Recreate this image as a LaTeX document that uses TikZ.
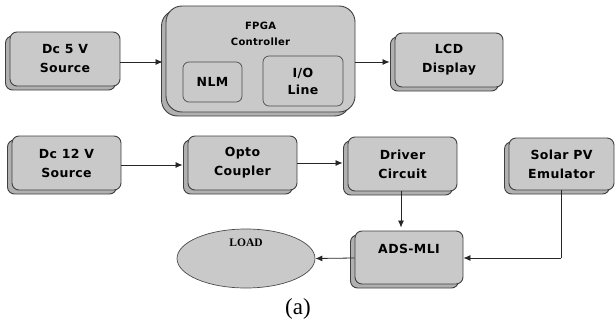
\documentclass[tikz,border=0pt]{standalone}
\usepackage{fontspec}
\setmainfont{Liberation Serif}
\newfontfamily\boxfont[LetterSpace=3]{DejaVu Sans}
\newfontfamily\calfont{Carlito}
\usetikzlibrary{arrows.meta,shadows,shapes.geometric}
\tikzset{
  blk/.style={draw=black!75, line width=0.9pt, fill=gray!42, rounded corners=7pt,
    copy shadow={shadow xshift=-4.5pt, shadow yshift=-4pt, fill=gray!62, draw=black!75},
    font=\boxfont\bfseries\fontsize{12.5}{19}\selectfont, align=center, inner sep=0pt},
  inner/.style={draw=black!70, line width=0.7pt, fill=gray!42, rounded corners=6pt,
    font=\boxfont\bfseries\fontsize{12.5}{17}\selectfont, align=center, inner sep=0pt},
  arr/.style={draw=black!85, line width=0.8pt, -{Latex[length=7pt,width=6pt]}},
  ln/.style={draw=black!85, line width=0.8pt},
}
\begin{document}
\begin{tikzpicture}[x=1pt,y=-1pt]
\useasboundingbox (0,0) rectangle (615,329);
% top row
\node[blk, minimum width=110pt, minimum height=54pt] (dc5) at (65,59) {Dc 5 V\\Source};
\node[blk, rounded corners=16pt, minimum width=189pt, minimum height=106pt] (fpga) at (260.5,59) {};
\node[font=\boxfont\bfseries\fontsize{10}{16}\selectfont, align=center] (fpgat) at (260.5,34) {FPGA\\Controller};
\node[inner, minimum width=59pt, minimum height=40pt] (nlm) at (212.5,82) {NLM};
\node[inner, minimum width=80pt, minimum height=50pt] (io) at (303,81) {I/O\\Line};
\node[blk, minimum width=108pt, minimum height=54pt] (lcd) at (449,60) {LCD\\Display};
% middle row
\node[blk, minimum width=109pt, minimum height=54pt] (dc12) at (66.5,163) {Dc 12 V\\Source};
\node[blk, minimum width=109pt, minimum height=54pt] (opto) at (242.5,163) {Opto\\Coupler};
\node[blk, minimum width=109pt, minimum height=54pt] (drv) at (402.5,164) {Driver\\Circuit};
\node[blk, minimum width=105pt, minimum height=52pt] (solar) at (561.5,164) {Solar PV\\Emulator};
% bottom row
\node[blk, minimum width=108pt, minimum height=53pt] (ads) at (409,257.5) {};
\node[font=\boxfont\bfseries\fontsize{12.5}{14}\selectfont] (adst) at (409,249) {ADS-MLI};
\node[ellipse, draw=black!70, line width=0.7pt, fill=gray!42, minimum width=138pt, minimum height=59pt, inner sep=0pt] (load) at (246,258.5) {};
\node[font=\bfseries\fontsize{11.5}{13}\selectfont] (loadt) at (246,243) {LOAD};
\node[font=\fontsize{23}{26}\selectfont] (cap) at (298,309) {(a)};
% connectors
\coordinate (c1) at (561,258);
\draw[arr] (dc5.east |- 0,62) -- ([xshift=-3pt]fpga.west |- 0,62);
\draw[arr] (fpga.east |- 0,62) -- ([xshift=-5pt]lcd.west |- 0,62);
\draw[arr] (dc12.east |- 0,165) -- ([xshift=-5pt]opto.west |- 0,165);
\draw[arr] (opto.east |- 0,163) -- ([xshift=-5pt]drv.west |- 0,163);
\draw[arr] (drv.south -| 401,0) -- ([yshift=3pt]ads.north -| 401,0);
\draw[ln] (solar.south -| c1) -- (c1);
\draw[arr] (c1) -- (ads.east |- c1);
\draw[arr] (ads.west |- 0,258) -- (load.east);
\end{tikzpicture}
\end{document}
